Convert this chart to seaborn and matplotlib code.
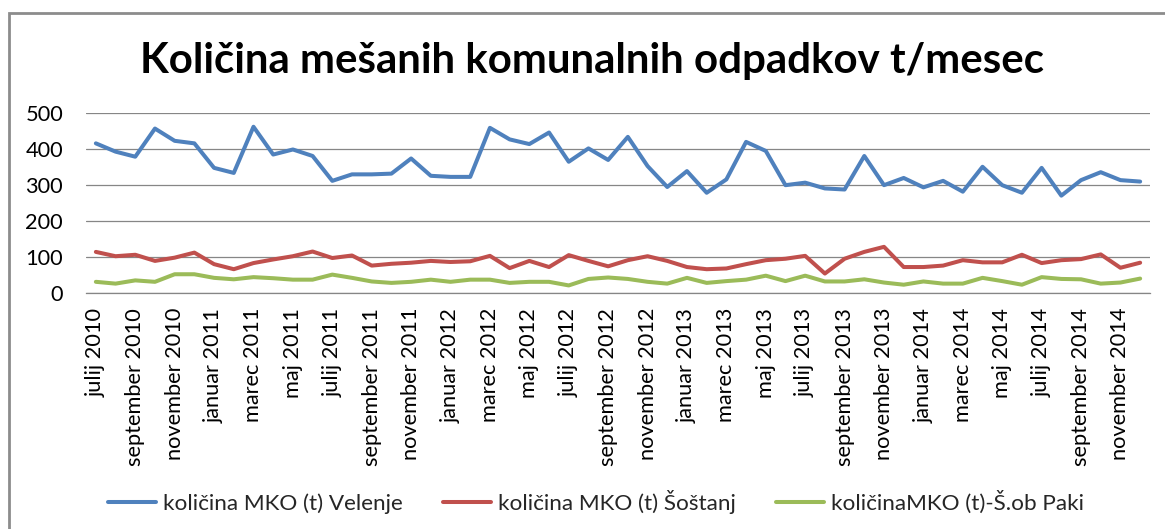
import matplotlib
matplotlib.use("Agg")
import matplotlib.pyplot as plt
from matplotlib.patches import Rectangle
import numpy as np
import pandas as pd
import seaborn as sns

# ---------------- data ----------------
months_sl = ["januar", "februar", "marec", "april", "maj", "junij",
             "julij", "avgust", "september", "oktober", "november", "december"]
start_year = 2010
start_month = 7  # julij 2010
n_months = 54    # julij 2010 .. december 2014

velenje = [415, 392, 378, 456, 422, 415, 347, 333, 461, 384,
           398, 380, 311, 329, 329, 331, 373, 325, 322, 322,
           458, 426, 413, 445, 364, 401, 369, 433, 352, 294,
           338, 278, 315, 419, 394, 299, 306, 290, 287, 380,
           299, 319, 293, 311, 281, 350, 299, 278, 347, 270,
           313, 335, 313, 309]
sostanj = [114, 102, 106, 89, 98, 112, 80, 66, 83, 93,
           102, 115, 97, 104, 76, 81, 84, 89, 86, 88,
           103, 69, 89, 72, 105, 89, 74, 91, 102, 89,
           72, 66, 68, 80, 91, 95, 103, 54, 95, 114,
           128, 72, 72, 76, 91, 85, 85, 106, 83, 91,
           94, 107, 70, 84]
paki = [31, 26, 35, 31, 52, 52, 42, 38, 44, 41,
        37, 37, 51, 42, 32, 28, 31, 37, 31, 37,
        37, 28, 31, 31, 21, 39, 43, 39, 31, 26,
        42, 28, 33, 37, 48, 33, 48, 32, 32, 38,
        29, 23, 32, 26, 26, 42, 33, 23, 44, 39,
        38, 26, 29, 40]
series_names = ["količina MKO (t) Velenje", "količina MKO (t) Šoštanj",
                "količinaMKO (t)-Š.ob Paki"]
colors = ["#4F81BD", "#C0504D", "#9BBB59"]
title = "Količina mešanih komunalnih odpadkov t/mesec"
y_ticks = [0, 100, 200, 300, 400, 500]

month_labels = []
for k in range(n_months):
    m = (start_month - 1 + k) % 12
    y = start_year + (start_month - 1 + k) // 12
    month_labels.append(f"{months_sl[m]} {y}")

# ---------------- figure ----------------
sns.set_theme(style="white")
plt.rcParams["font.family"] = ["Lato", "DejaVu Sans"]

W, H = 1165, 529
fig = plt.figure(figsize=(W / 100, H / 100), dpi=100)
fig.patch.set_facecolor("white")

# chart border
fig.patches.append(Rectangle((9 / W, -0.05), 1.2, 1 - 13 / H + 0.05,
                             transform=fig.transFigure, fill=False,
                             edgecolor="#8C8C8C", linewidth=2.0, zorder=0))

left, right, top, bottom = 86, 1150, 112.7, 293
ax = fig.add_axes([left / W, 1 - bottom / H, (right - left) / W, (bottom - top) / H])

LW = 2.9
idx = np.arange(n_months)
df = pd.DataFrame({
    "idx": np.concatenate([idx, idx, idx]),
    "value": np.concatenate([velenje, sostanj, paki]),
    "serie": np.repeat(series_names, n_months),
})
sns.lineplot(data=df, x="idx", y="value", hue="serie", hue_order=series_names,
             palette=colors, linewidth=LW, ax=ax, zorder=3)

handles, labels = ax.get_legend_handles_labels()
if ax.get_legend() is not None:
    ax.get_legend().remove()

ax.set_xlim(-0.5, n_months - 0.5)
ax.set_ylim(0, 500)
ax.set_yticks(y_ticks)
ax.set_xticks(idx[::2])
ax.set_xticklabels(month_labels[::2], rotation=90, va="top", ha="center")
ax.set_xlabel("")
ax.set_ylabel("")
ax.grid(axis="y", color="#868686", linewidth=0.9)
ax.grid(axis="x", visible=False)
for s in ["top", "right", "left"]:
    ax.spines[s].set_visible(False)
ax.spines["bottom"].set_color("#868686")
ax.spines["bottom"].set_linewidth(0.9)
ax.tick_params(axis="both", length=0, colors="#000000")
ax.tick_params(axis="x", pad=15 * 0.72)
ax.tick_params(axis="y", pad=23 * 0.72)

# title
ttl = fig.text(592 / W, 1 - 61 / H, title, ha="center", va="center",
               fontweight="bold", fontsize=28, color="#000000")

fig.canvas.draw()
r = fig.canvas.get_renderer()

def fit_width(t, target):
    bb = t.get_window_extent(r)
    t.set_fontsize(t.get_fontsize() * target / bb.width)

fit_width(ttl, 903)

# y tick labels: "500" width ~38 px
ylabs = ax.get_yticklabels()
bb = ylabs[-1].get_window_extent(r)
ys = ylabs[-1].get_fontsize() * 38 / bb.width
for t in ylabs:
    t.set_fontsize(ys)

# x tick labels: "september 2010" length ~158 px
xlabs = ax.get_xticklabels()
bb = xlabs[1].get_window_extent(r)
xs = xlabs[1].get_fontsize() * 158 / bb.height
for t in xlabs:
    t.set_fontsize(xs)

# legend font size from sample text width (241 px)
tmp = fig.text(0, 0, series_names[0], fontsize=14)
bb = tmp.get_window_extent(r)
ls = 14 * 241 / bb.width
tmp.remove()
ls_px = ls * 100 / 72
leg = fig.legend(handles, labels, loc="center", bbox_to_anchor=(596 / W, 27 / H),
                 ncol=3, frameon=False, fontsize=ls,
                 handlelength=48 / ls_px, handletextpad=7 / ls_px,
                 columnspacing=40 / ls_px, borderpad=0)
for h in leg.get_lines():
    h.set_linewidth(LW)

fig.savefig("out.png", dpi=100, facecolor="white")
